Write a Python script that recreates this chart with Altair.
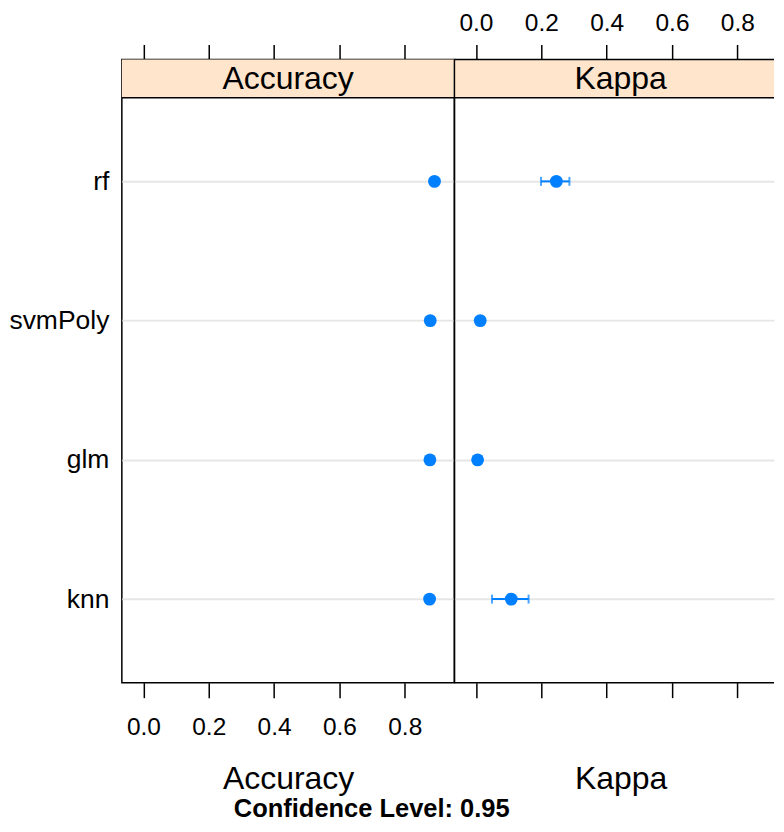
import altair as alt
import pandas as pd

# ---- data ----
models = ["rf", "svmPoly", "glm", "knn"]
metrics = ["Accuracy", "Kappa"]
acc_est = [0.891, 0.878, 0.877, 0.876]
acc_lo = [0.887, 0.874, 0.873, 0.870]
acc_hi = [0.895, 0.882, 0.881, 0.882]
kap_est = [0.246, 0.013, 0.005, 0.108]
kap_lo = [0.199, 0.006, -0.001, 0.049]
kap_hi = [0.286, 0.020, 0.011, 0.161]
tick_values = [0.0, 0.2, 0.4, 0.6, 0.8]
subtitle = "Confidence Level: 0.95"

# ---- styling / layout ----
FONT = "Liberation Sans"
BLUE = "#0080ff"
PEACH = "#ffe5cc"
GRID = "#e6e6e6"
W = 333            # full panel width
W2 = 320           # visible part of the second panel (the reference is cut at the right)
H = 624
STRIP_H = 38.4
XMIN, XMAX = -0.066, 0.952
XMAX2 = XMIN + (XMAX - XMIN) * W2 / W
YTOP = 4.6 + STRIP_H * 4.2 / (H - STRIP_H)
TICK_FS = 24.5

n = len(models)
rows = []
for m, est, lo, hi in (("Accuracy", acc_est, acc_lo, acc_hi), ("Kappa", kap_est, kap_lo, kap_hi)):
    for i, name in enumerate(models):
        rows.append({"metric": m, "model": name, "pos": n - i, "est": est[i], "lo": lo[i], "hi": hi[i]})
df = pd.DataFrame(rows)
strip_df = pd.DataFrame({"metric": metrics, "label": metrics})

label_expr = " : ".join(f"datum.value == {n - i} ? '{name}'" for i, name in enumerate(models)) + " : ''"


def panel(metric, first):
    d = df[df.metric == metric]
    width = W if first else W2
    xs = alt.Scale(domain=[XMIN, XMAX if first else XMAX2], nice=False, zero=False)
    ys = alt.Scale(domain=[0.4, YTOP], nice=False, zero=False)
    yaxis = alt.Axis(values=[1, 2, 3, 4], labelExpr=label_expr, labels=first, ticks=False,
                     domain=False, grid=True, gridColor=GRID, gridWidth=2, title=None,
                     labelFontSize=26.5, labelPadding=13, labelColor="black", labelFont=FONT,
                     minExtent=0)
    bottom_axis = alt.Axis(orient="bottom", values=tick_values, format=".1f", tickSize=15,
                           tickColor="black", tickWidth=1.5,
                           labelFontSize=TICK_FS, labelFont=FONT, labelColor="black",
                           labelPadding=18, labelOpacity=1 if first else 0, title=metric,
                           titleFontSize=32, titleFontWeight="normal", titlePadding=24,
                           titleColor="black", titleFont=FONT, titleX=W / 2,
                           domain=False, grid=False)
    top_axis = alt.Axis(orient="top", values=tick_values, format=".1f", tickSize=15,
                        tickColor="black", tickWidth=1.5,
                        labelFontSize=TICK_FS, labelFont=FONT, labelColor="black",
                        labelPadding=9.5, labelOpacity=0 if first else 1, title=None,
                        domain=False, grid=False)
    base = alt.Chart(d)
    y_enc = alt.Y("pos:Q", scale=ys, axis=yaxis)
    bars = base.mark_rule(color=BLUE, strokeWidth=2).encode(
        x=alt.X("lo:Q", scale=xs, axis=top_axis), x2="hi:Q", y=y_enc)
    cap_lo = base.mark_tick(color=BLUE, orient="vertical", size=9, thickness=2).encode(
        x=alt.X("lo:Q", scale=xs, axis=None), y=y_enc)
    cap_hi = base.mark_tick(color=BLUE, orient="vertical", size=9, thickness=2).encode(
        x=alt.X("hi:Q", scale=xs, axis=None), y=y_enc)
    pts = base.mark_circle(size=165, color=BLUE, opacity=1).encode(
        x=alt.X("est:Q", scale=xs, axis=bottom_axis), y=y_enc)
    sd = alt.Chart(strip_df[strip_df.metric == metric])
    strip = sd.mark_rect(fill=PEACH).encode(
        x=alt.value(0), x2=alt.value("width"), y=alt.value(0), y2=alt.value(STRIP_H))
    strip_line = sd.mark_rule(color="black", strokeWidth=1.5).encode(
        x=alt.value(0), x2=alt.value("width"), y=alt.value(STRIP_H))
    strip_text = sd.mark_text(fontSize=32, font=FONT, color="black", baseline="alphabetic",
                              align="center").encode(
        x=alt.value(W / 2), y=alt.value(30), text="label:N")
    layers = [bars, cap_lo, cap_hi, pts, strip, strip_line, strip_text]
    if first:
        view = alt.ViewBackground(stroke="black", strokeWidth=1.5)
    else:
        view = alt.ViewBackground(stroke="transparent")
        edge = sd.mark_rule(color="black", strokeWidth=1.5)
        layers += [
            edge.encode(x=alt.value(0), x2=alt.value("width"), y=alt.value(0)),
            edge.encode(x=alt.value(0), x2=alt.value("width"), y=alt.value("height")),
            edge.encode(x=alt.value(0), y=alt.value(0), y2=alt.value("height")),
        ]
    return alt.layer(*layers).resolve_axis(x="independent").properties(
        width=width, height=H, view=view)


chart = alt.hconcat(panel("Accuracy", True), panel("Kappa", False), spacing=0,
                    bounds="flush").properties(
    title=alt.TitleParams(subtitle, orient="bottom", anchor="start", fontSize=25.5,
                          fontWeight="bold", font=FONT, color="black", offset=2.5, dx=226),
    padding={"left": 0, "top": 0, "right": 0, "bottom": 0},
    background="white",
)

chart.save("out.html", embed_options={"renderer": "svg", "actions": False})
